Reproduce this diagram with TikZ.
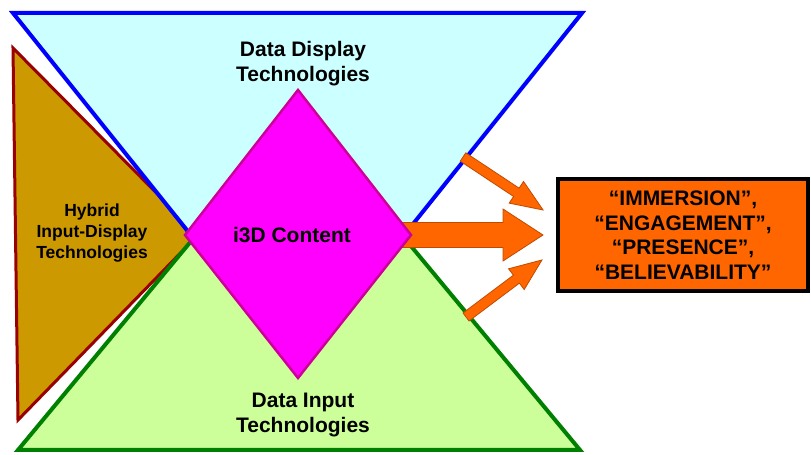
\documentclass[tikz,border=0pt]{standalone}
\usepackage{fontspec}
\setmainfont{Liberation Sans}
\usepackage{tikz}

\definecolor{dispfill}{HTML}{CCFFFF}
\definecolor{displine}{HTML}{0000FF}
\definecolor{inputfill}{HTML}{CCFF99}
\definecolor{inputline}{HTML}{008000}
\definecolor{hybfill}{HTML}{CC9900}
\definecolor{hybline}{HTML}{990000}
\definecolor{contfill}{HTML}{FF00FF}
\definecolor{contline}{HTML}{CC0099}
\definecolor{arroworange}{HTML}{FF6600}
\definecolor{arrowedge}{HTML}{C04A00}

% start, angle, length, half shaft, half head, head length
\newcommand{\blockarrow}[6]{%
  \filldraw[blockarr, shift={#1}, rotate=#2]
    (0,-#4) -- (#3-#6,-#4) -- (#3-#6,-#5) -- (#3,0) -- (#3-#6,#5) -- (#3-#6,#4) -- (0,#4) -- cycle;}

\begin{document}
\begin{tikzpicture}[x=1pt,y=1pt,line join=miter,
  lbl/.style={font=\bfseries\fontsize{21}{25}\selectfont, align=center, inner sep=0pt},
  blockarr/.style={fill=arroworange, draw=arrowedge, line width=0.8pt}]
\useasboundingbox (0,0) rectangle (811,455);
%hybrid
\filldraw[fill=hybfill, draw=hybline, line width=3pt] (13,407) -- (198,220) -- (18,35) -- cycle;
%display
\fill[dispfill] (190,221) -- (13,442) -- (582,442) -- (405,221) -- cycle;
\draw[displine, line width=4pt] (190,221) -- (13,442) -- (582,442) -- (405,221);
%input
\fill[inputfill] (197,221) -- (18,5) -- (580,5) -- (401,221) -- cycle;
\draw[inputline, line width=4pt] (197,221) -- (18,5) -- (580,5) -- (401,221);
%arrows
\blockarrow{(400,220)}{0}{143}{12.5}{26}{40}
\blockarrow{(463,298)}{-33.5}{96}{5}{13}{32}
\blockarrow{(466,138)}{36.9}{95}{5}{13}{32}
%content
\filldraw[fill=contfill, draw=contline, line width=2.5pt] (185,220) -- (298,365) -- (411,220) -- (298,77) -- cycle;
%labels
\node[lbl] (display) at (303,391) {Data Display\\Technologies};
\node[lbl] (input) at (303,40) {Data Input\\Technologies};
\node[lbl, font=\bfseries\fontsize{17.5}{21}\selectfont] (hybrid) at (92,222) {Hybrid\\Input-Display\\Technologies};
\node[lbl] (content) at (292,220) {i3D Content};
%result
\node[draw=black, fill=arroworange, line width=3.5pt, minimum width=250pt, minimum height=112pt,
  font=\bfseries\fontsize{21}{24.5}\selectfont, align=center] (result) at (683,220)
  {``IMMERSION'',\\``ENGAGEMENT'',\\``PRESENCE'',\\``BELIEVABILITY''};
\end{tikzpicture}
\end{document}
